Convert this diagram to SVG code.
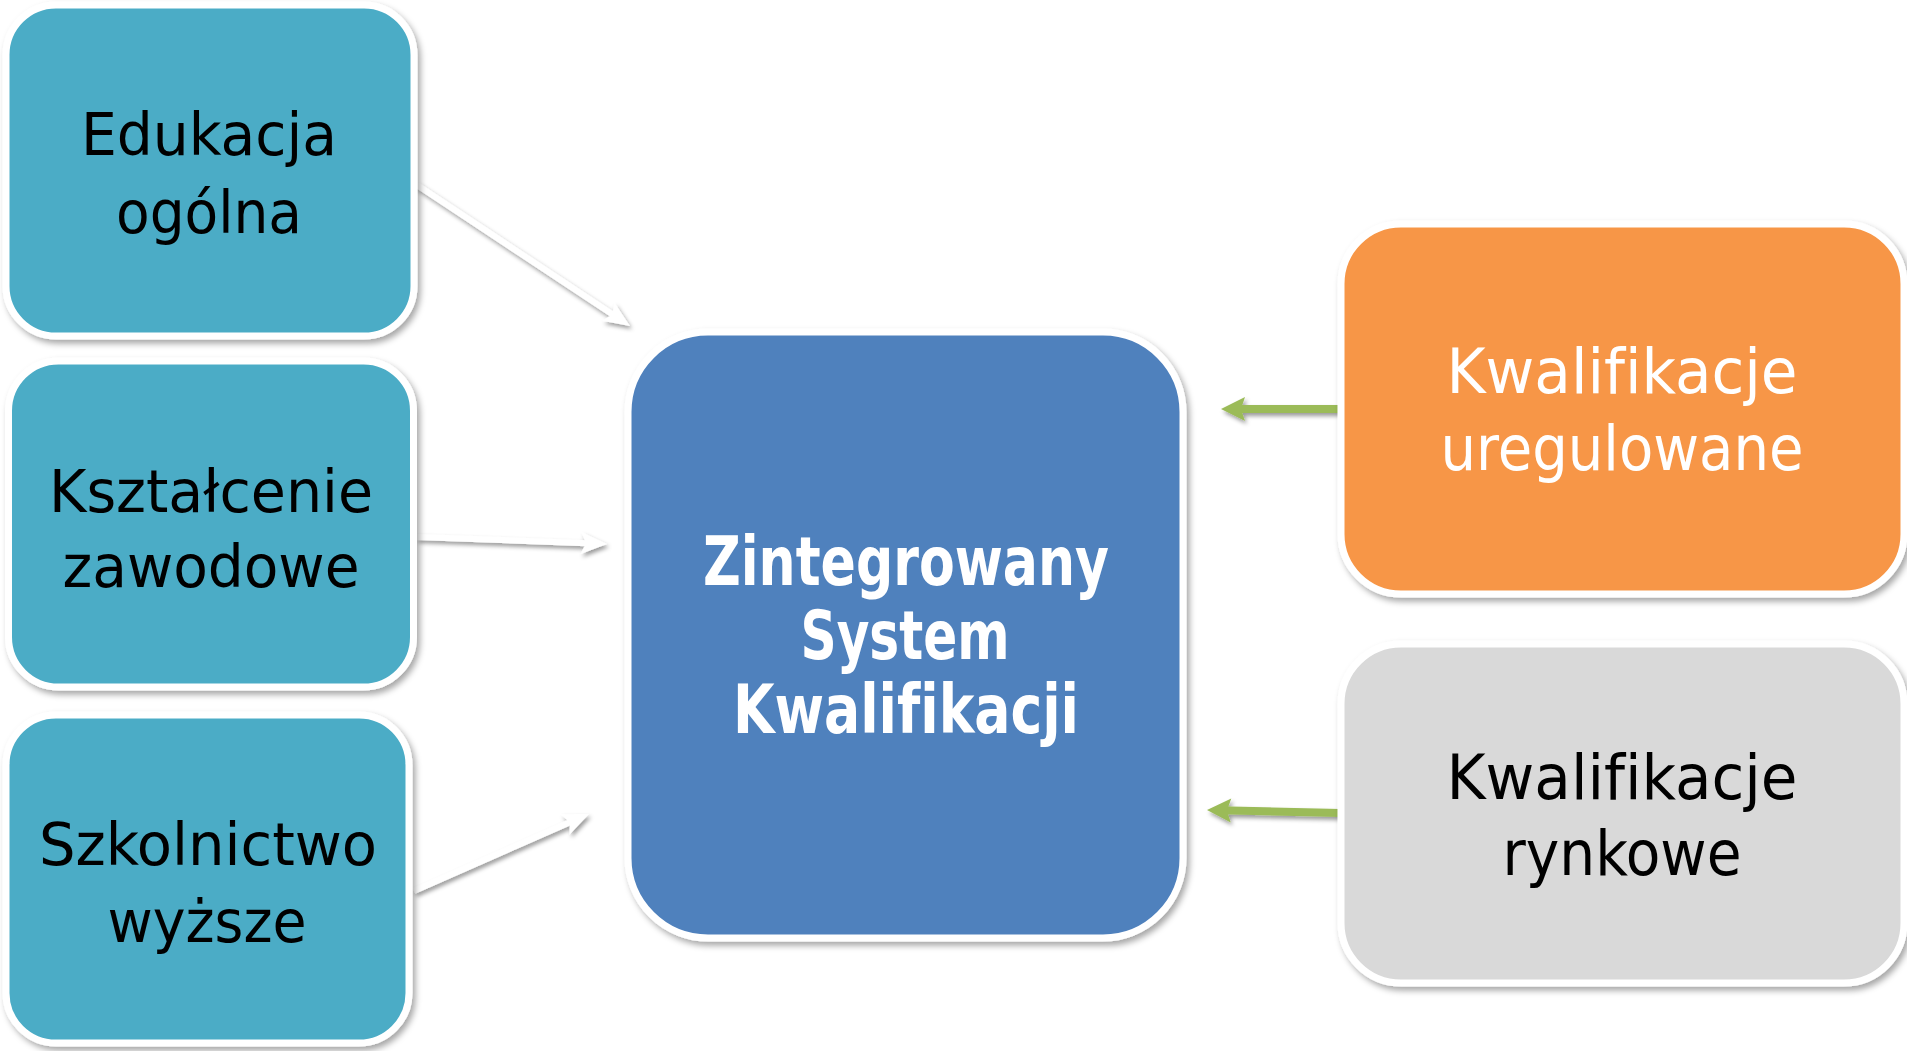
<svg xmlns="http://www.w3.org/2000/svg" width="1907" height="1051" viewBox="0 0 1907 1051">
<defs>
<filter id="sh" x="-10%" y="-10%" width="130%" height="130%">
<feDropShadow dx="3" dy="4" stdDeviation="3" flood-color="#000" flood-opacity="0.35"/>
</filter>
<filter id="ash" x="-20%" y="-50%" width="150%" height="200%">
<feDropShadow dx="2" dy="3" stdDeviation="2" flood-color="#000" flood-opacity="0.4"/>
</filter>
<marker id="wh" markerUnits="userSpaceOnUse" markerWidth="26" markerHeight="22" refX="12" refY="11" orient="auto" overflow="visible">
<path d="M0,0 L26,11 L0,22 L5,11 Z" fill="#fff"/>
</marker>
<marker id="gr" markerUnits="userSpaceOnUse" markerWidth="24" markerHeight="24" refX="12" refY="12" orient="auto" overflow="visible">
<path d="M0,0 L24,12 L0,24 L4,12 Z" fill="#9BBB59"/>
</marker>
</defs>
<style>
.box{stroke:#fff;stroke-width:7;filter:url(#sh)}
.teal{fill:#4BACC6}
.blue{fill:#4F81BD}
.orange{fill:#F79646}
.gray{fill:#D9D9D9}
.t{font-family:"DejaVu Sans Condensed","DejaVu Sans",sans-serif;text-anchor:middle;font-variant-ligatures:none}
.reg{font-size:58px;fill:#000}
.rr{font-size:62px}
.wb{font-size:68px;font-weight:bold;fill:#fff}
.w{fill:#fff}
.k{fill:#000}
.wa{stroke:#fff;stroke-width:6;fill:none;marker-end:url(#wh)}
.ga{stroke:#9BBB59;stroke-width:8;fill:none;marker-end:url(#gr)}
</style>
<rect width="1907" height="1051" fill="#fff"/>

<g id="connectors" filter="url(#ash)">
<line class="wa" x1="417" y1="185" x2="618.3" y2="318.3"/>
<line class="wa" x1="417" y1="537" x2="593" y2="543.5"/>
<line class="wa" x1="414" y1="891" x2="576.2" y2="819.6"/>
<line class="ga" x1="1340" y1="409" x2="1233" y2="409"/>
<line class="ga" x1="1340" y1="813" x2="1219" y2="810.3"/>
</g>

<g id="node-edukacja">
<rect class="box teal" x="6" y="5" width="408" height="331" rx="50" ry="50"/>
<text class="t reg" x="209" y="155" textLength="256" lengthAdjust="spacingAndGlyphs">Edukacja</text>
<text class="t reg" x="209" y="233" textLength="186" lengthAdjust="spacingAndGlyphs">ogólna</text>
</g>

<g id="node-ksztalcenie">
<rect class="box teal" x="8.5" y="361" width="405" height="326" rx="50" ry="50"/>
<text class="t reg" x="211" y="512" textLength="324" lengthAdjust="spacingAndGlyphs">Kształcenie</text>
<text class="t reg" x="211" y="587" textLength="297" lengthAdjust="spacingAndGlyphs">zawodowe</text>
</g>

<g id="node-szkolnictwo">
<rect class="box teal" x="6" y="715" width="403" height="328" rx="50" ry="50"/>
<text class="t reg" x="208" y="865" textLength="338" lengthAdjust="spacingAndGlyphs">Szkolnictwo</text>
<text class="t reg" x="207" y="942" textLength="199" lengthAdjust="spacingAndGlyphs">wyższe</text>
</g>

<g id="node-zsk">
<rect class="box blue" x="628" y="332" width="555" height="606" rx="80" ry="80"/>
<text class="t wb" x="906" y="585" textLength="406" lengthAdjust="spacingAndGlyphs">Zintegrowany</text>
<text class="t wb" x="905" y="659" textLength="209" lengthAdjust="spacingAndGlyphs">System</text>
<text class="t wb" x="906" y="733" textLength="346" lengthAdjust="spacingAndGlyphs">Kwalifikacji</text>
</g>

<g id="node-uregulowane">
<rect class="box orange" x="1341" y="224" width="563" height="370" rx="60" ry="60"/>
<text class="t rr w" x="1622" y="393" textLength="351" lengthAdjust="spacingAndGlyphs">Kwalifikacje</text>
<text class="t rr w" x="1622" y="470" textLength="363" lengthAdjust="spacingAndGlyphs">uregulowane</text>
</g>

<g id="node-rynkowe">
<rect class="box gray" x="1341" y="644" width="563" height="339" rx="60" ry="60"/>
<text class="t rr k" x="1622" y="799" textLength="351" lengthAdjust="spacingAndGlyphs">Kwalifikacje</text>
<text class="t rr k" x="1622" y="875" textLength="239" lengthAdjust="spacingAndGlyphs">rynkowe</text>
</g>
</svg>
